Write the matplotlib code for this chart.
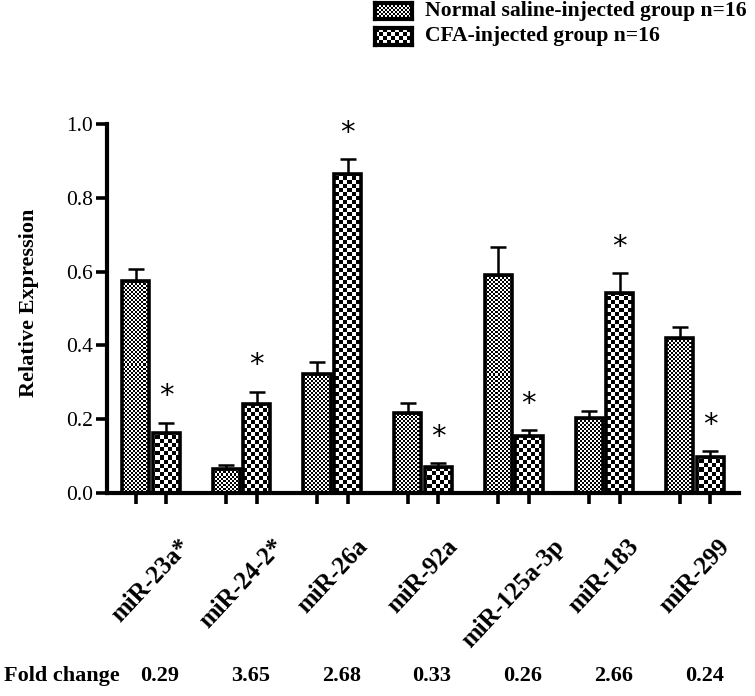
import numpy as np
import matplotlib
matplotlib.use("Agg")
import matplotlib.pyplot as plt
import matplotlib.transforms as mtransforms

plt.rcParams['font.family'] = ['Liberation Serif', 'DejaVu Serif']

categories = ["miR-23a*", "miR-24-2*", "miR-26a", "miR-92a", "miR-125a-3p", "miR-183", "miR-299"]
normal_vals = [0.575, 0.066, 0.322, 0.216, 0.591, 0.202, 0.419]
normal_err = [0.033, 0.011, 0.033, 0.028, 0.075, 0.021, 0.030]
cfa_vals = [0.163, 0.241, 0.864, 0.071, 0.154, 0.541, 0.098]
cfa_err = [0.028, 0.034, 0.040, 0.011, 0.017, 0.054, 0.016]
fold_change = ["0.29", "3.65", "2.68", "0.33", "0.26", "2.66", "0.24"]
legend_labels = ["Normal saline-injected group n=16", "CFA-injected group n=16"]
yticks = [0.0, 0.2, 0.4, 0.6, 0.8, 1.0]

W, H = 755, 696
DPI = 100
fig = plt.figure(figsize=(W / DPI, H / DPI), dpi=DPI)
ax_l, ax_r, ax_t, ax_b = 107, 739, 124, 493
ax = fig.add_axes([ax_l / W, 1 - ax_b / H, (ax_r - ax_l) / W, (ax_b - ax_t) / H])

x = np.arange(len(categories))
off = 0.168
bw = 0.30
xlim = (-0.485, len(categories) - 1 + 0.485)
ax.set_xlim(*xlim)
ax.set_ylim(0, 1.0)

def checker(h, w, cell):
    yy, xx = np.mgrid[0:h, 0:w]
    return (((yy // cell) + (xx // cell)) % 2).astype(float)

pw, ph = ax_r - ax_l, ax_b - ax_t
fine = checker(ph, pw, 2)
coarse = checker(ph, pw, 4)

edge_lw = 2.6
for vals, errs, xo, pat in [(normal_vals, normal_err, -off, fine), (cfa_vals, cfa_err, off, coarse)]:
    bars = ax.bar(x + xo, vals, width=bw, color='white', edgecolor='none', zorder=1)
    for b in bars:
        im = ax.imshow(pat, extent=(xlim[0], xlim[1], 0, 1.0), cmap='gray', vmin=0, vmax=1,
                       interpolation='nearest', aspect='auto', zorder=1.5, origin='upper')
        im.set_clip_path(b)
    ax.bar(x + xo, vals, width=bw, fill=False, edgecolor='black', linewidth=edge_lw, zorder=2)
    ax.errorbar(x + xo, vals, yerr=[np.zeros(len(vals)), errs], fmt='none', ecolor='black',
                elinewidth=1.8, capsize=6, capthick=1.8, zorder=1.8)

# significance asterisks on CFA bars
for xi, v, e in zip(x, cfa_vals, cfa_err):
    ax.text(xi + off, v + e + 0.071, "*", ha='center', va='center', fontsize=21,
            family=['DejaVu Sans'], zorder=3)

ax.set_aspect('auto')
for s in ['top', 'right']:
    ax.spines[s].set_visible(False)
for s in ['left', 'bottom']:
    ax.spines[s].set_linewidth(3.0)

ax.set_yticks(yticks)
ax.set_yticklabels([f"{t:.1f}" for t in yticks], fontsize=15.5)
ax.tick_params(axis='y', length=8, width=2.6, pad=2)
ticks_x = np.concatenate([x - off, x + off])
ax.set_xticks(ticks_x)
ax.set_xticklabels([])
ax.tick_params(axis='x', length=8, width=2.6)

# rotated category labels centred under each group
trans = mtransforms.blended_transform_factory(ax.transData, fig.transFigure)
for xi, c in zip(x, categories):
    ax.text(xi, 1 - 535 / H, c, transform=trans, rotation=47, ha='center', va='top',
            fontsize=18, fontweight='bold')

fig.text(29 / W, 1 - 303 / H, "Relative Expression", rotation=90, ha='center', va='center',
         fontsize=16, fontweight='bold')

# fold change row
fig.text(4 / W, 1 - 676 / H, "Fold change", ha='left', va='center', fontsize=16, fontweight='bold')
for xi, fc in zip(x, fold_change):
    ax.text(xi + 0.1, 1 - 676 / H, fc, transform=trans, ha='center', va='center',
            fontsize=16, fontweight='bold')

# legend (manual swatches)
sw = [(375, 3, 412, 19), (375, 28, 412, 45)]
pats = [2, 4]
for (x0, y0, x1, y1), cell, lab in zip(sw, pats, legend_labels):
    lax = fig.add_axes([x0 / W, 1 - y1 / H, (x1 - x0) / W, (y1 - y0) / H])
    lax.imshow(checker(y1 - y0, x1 - x0, cell), cmap='gray', vmin=0, vmax=1,
               interpolation='nearest', aspect='auto')
    lax.set_xticks([]); lax.set_yticks([])
    for s in lax.spines.values():
        s.set_linewidth(3.0)
    fig.text(425 / W, 1 - ((y0 + y1) / 2) / H, lab, ha='left', va='center',
             fontsize=15.6, fontweight='bold')

fig.savefig("out.png", dpi=DPI)
